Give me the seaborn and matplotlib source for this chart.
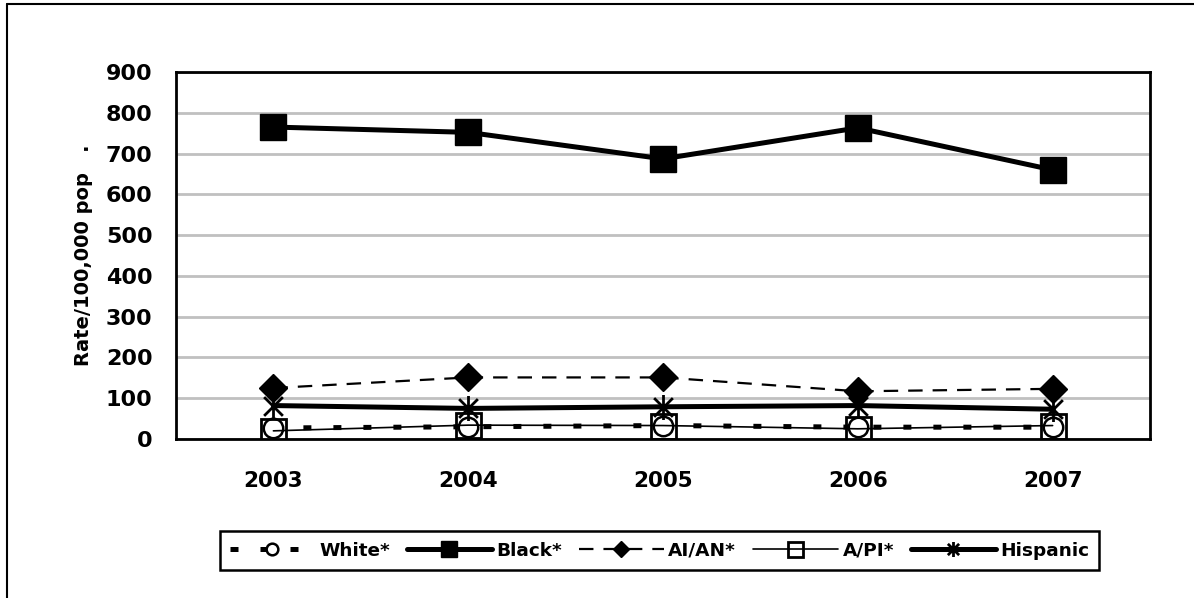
import numpy as np
import pandas as pd
import matplotlib
matplotlib.use("Agg")
import matplotlib.pyplot as plt
import seaborn as sns
from matplotlib.path import Path
from matplotlib.lines import Line2D

years = ["2003", "2004", "2005", "2006", "2007"]
white = [27, 30, 33, 29, 29]
black = [765, 752, 687, 763, 660]
aian = [125, 151, 151, 117, 123]
api = [20, 34, 33, 25, 33]
hispanic = [82, 75, 79, 82, 73]
series_names = ["White*", "Black*", "AI/AN*", "A/PI*", "Hispanic"]
y_ticks = [0, 100, 200, 300, 400, 500, 600, 700, 800, 900]

sns.set_theme(style="white")
plt.rcParams["font.family"] = ["DejaVu Sans"]
plt.rcParams["font.weight"] = "bold"
for k in ["text.color", "axes.labelcolor", "xtick.color", "ytick.color"]:
    plt.rcParams[k] = "black"

fig = plt.figure(figsize=(11.94, 5.98), dpi=100)
ax = fig.add_axes([176/1194, 1-439/598, (1150-176)/1194, (439-72)/598])

xpos = np.arange(len(years))

ast = Path([(0, -1), (0, 1), (-0.75, -0.75), (0.75, 0.75), (-0.75, 0.75), (0.75, -0.75)],
           [Path.MOVETO, Path.LINETO, Path.MOVETO, Path.LINETO, Path.MOVETO, Path.LINETO])

styles = [
    dict(y=white, linestyle=(0, (1.6, 4.4)), lw=3.6, marker="o", ms=14, mfc="white", mec="black", mew=1.8, dash_capstyle="butt"),
    dict(y=black, linestyle="-", lw=3.6, marker="s", ms=19, mfc="black", mec="black", mew=1),
    dict(y=aian, linestyle=(0, (6.5, 4.5)), lw=1.6, marker="D", ms=14, mfc="black", mec="black", mew=1),
    dict(y=api, linestyle="-", lw=1.2, marker="s", ms=18, mfc="none", mec="black", mew=2),
    dict(y=hispanic, linestyle="-", lw=3.6, marker=ast, ms=18, mfc="none", mec="black", mew=2),
]

for name, st in zip(series_names, styles):
    yv = st.pop("y")
    sns.lineplot(x=xpos, y=yv, ax=ax, color="black", label=name, errorbar=None, **st)

ax.set_xlim(-0.5, len(years) - 0.5)
ax.set_ylim(0, 900)
ax.set_yticks(y_ticks)
ax.set_yticklabels([str(v) for v in y_ticks], fontsize=16, fontweight="bold", color="black")
ax.set_xticks(xpos)
ax.set_xticklabels(years, fontsize=15.5, fontweight="bold", color="black")
ax.set_xticks(np.arange(-0.5, len(years)), minor=True)
ax.tick_params(axis="x", which="major", length=0, pad=23)
ax.tick_params(axis="x", which="minor", length=7, width=2, color="black", direction="out")
ax.tick_params(axis="y", which="major", length=7, width=2, color="black", direction="out", pad=10)
ax.set_xlabel("")
ax.set_ylabel("Rate/100,000 pop   .", fontsize=14, fontweight="bold", color="black")
ax.yaxis.set_label_coords(-0.085, 0.5)

ax.yaxis.grid(True, color="#c0c0c0", lw=2)
ax.xaxis.grid(False)
ax.set_axisbelow(True)
for sp in ax.spines.values():
    sp.set_visible(True)
    sp.set_color("black")
    sp.set_linewidth(2)

handles, labels = ax.get_legend_handles_labels()
if ax.get_legend():
    ax.get_legend().remove()
leg = fig.legend(handles, labels, loc="center", bbox_to_anchor=(659.5/1194, 1-550.5/598), ncol=5,
                 frameon=True, fancybox=False, edgecolor="black", framealpha=1,
                 prop={"size": 13.3, "weight": "bold"}, handlelength=4.6, handletextpad=0.25,
                 columnspacing=0.9, borderpad=0.55, numpoints=1, markerscale=0.6)
leg.get_frame().set_linewidth(1.8)
for t in leg.get_texts():
    t.set_color("black")

fig.add_artist(Line2D([7/1194, 7/1194], [0, 1-4/598], transform=fig.transFigure, color="black", lw=1.5))
fig.add_artist(Line2D([7/1194, 1], [1-4/598, 1-4/598], transform=fig.transFigure, color="black", lw=1.5))

fig.savefig("out.png", dpi=100)
